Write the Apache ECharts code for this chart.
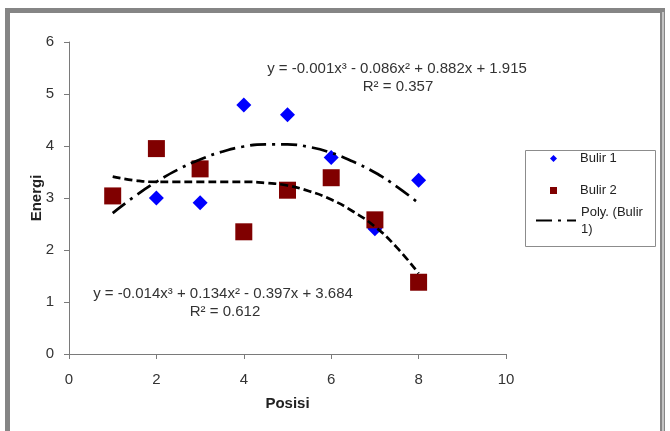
<!DOCTYPE html>
<html>
<head>
<meta charset="utf-8">
<script src="https://cdn.jsdelivr.net/npm/echarts@6/dist/echarts.min.js"></script>
<style>
html,body{margin:0;padding:0;background:#fff;}
#chart{width:670px;height:431px;}
</style>
</head>
<body>
<div id="chart"></div>
<script>
// ---- data ----
var posisi = [1, 2, 3, 4, 5, 6, 7, 8];
var bulir1 = [3.03, 3.00, 2.91, 4.79, 4.60, 3.78, 2.41, 3.34];
var bulir2 = [3.04, 3.95, 3.56, 2.35, 3.15, 3.39, 2.58, 1.38];
var trendX = [1, 1.5, 2, 2.5, 3, 3.5, 4, 4.5, 5, 5.5, 6, 6.5, 7, 7.5, 8];
var trend1 = [2.71, 3.03, 3.31, 3.55, 3.74, 3.89, 3.99, 4.03, 4.03, 3.98, 3.87, 3.70, 3.49, 3.22, 2.90];
var trend2 = [3.41, 3.34, 3.31, 3.31, 3.31, 3.31, 3.31, 3.29, 3.24, 3.13, 2.97, 2.74, 2.45, 2.05, 1.55];
var xTicks = [0, 2, 4, 6, 8, 10];
var yTicks = [0, 1, 2, 3, 4, 5, 6];
var seriesNames = ['Bulir 1', 'Bulir 2', 'Poly. (Bulir 1)', 'Poly. (Bulir 2)'];
var eq1 = ['y = -0.001x³ - 0.086x² + 0.882x + 1.915', 'R² = 0.357'];
var eq2 = ['y = -0.014x³ + 0.134x² - 0.397x + 3.684', 'R² = 0.612'];
var xName = 'Posisi';
var yName = 'Energi';

function pairs(xs, ys) { return xs.map(function (x, i) { return [x, ys[i]]; }); }

var FONT = 'Liberation Sans, Arial, sans-serif';
var chart = echarts.init(document.getElementById('chart'), null, {renderer: 'canvas'});

var legendText = {fontFamily: FONT, fontSize: 13, color: '#222', lineHeight: 17};

chart.setOption({
  backgroundColor: '#ffffff',
  animation: false,
  grid: {left: 69, right: 164, top: 42, bottom: 77, containLabel: false},
  xAxis: {
    type: 'value', min: xTicks[0], max: xTicks[xTicks.length - 1], interval: 2,
    name: xName, nameLocation: 'middle', nameGap: 42,
    nameTextStyle: {fontFamily: FONT, fontSize: 15, fontWeight: 'bold', color: '#222'},
    axisLine: {show: true, onZero: false, lineStyle: {color: '#7a7a7a', width: 1}},
    axisTick: {show: true, inside: false, length: 5, lineStyle: {color: '#7a7a7a'}},
    axisLabel: {margin: 18, fontFamily: FONT, fontSize: 15, color: '#333'},
    splitLine: {show: false}
  },
  yAxis: {
    type: 'value', min: yTicks[0], max: yTicks[yTicks.length - 1], interval: 1,
    name: yName, nameLocation: 'middle', nameGap: 25, nameMoveOverlap: false,
    nameTextStyle: {fontFamily: FONT, fontSize: 15, fontWeight: 'bold', color: '#222'},
    axisLine: {show: true, onZero: false, lineStyle: {color: '#7a7a7a', width: 1}},
    axisTick: {show: true, inside: false, length: 5, lineStyle: {color: '#7a7a7a'}},
    axisLabel: {margin: 15, fontFamily: FONT, fontSize: 15, color: '#333'},
    splitLine: {show: false}
  },
  legend: [
    {data: [seriesNames[0]], orient: 'vertical', left: 550, top: 150, padding: 0,
     itemWidth: 7, itemHeight: 7, icon: 'diamond', itemStyle: {opacity: 1},
     textStyle: Object.assign({padding: [0, 0, 0, 18]}, legendText), selectedMode: false},
    {data: [seriesNames[1]], orient: 'vertical', left: 550, top: 182, padding: 0,
     itemWidth: 7, itemHeight: 7, icon: 'rect', itemStyle: {opacity: 1},
     textStyle: Object.assign({padding: [0, 0, 0, 18]}, legendText), selectedMode: false},
    {data: [seriesNames[2]], orient: 'vertical', left: 535, top: 195, padding: 0,
     itemWidth: 40, itemHeight: 6,
     itemStyle: {opacity: 0},
     formatter: function (n) { return 'Poly. (Bulir\n1)'; },
     textStyle: Object.assign({padding: [17, 0, 0, 0]}, legendText), selectedMode: false}
  ],
  graphic: [
    {type: 'rect', silent: true, z: 100,
     shape: {x: 7.5, y: 10.5, width: 655, height: 460},
     style: {fill: 'none', stroke: '#858585', lineWidth: 5}},
    {type: 'line', silent: true, z: 101,
     shape: {x1: 663, y1: 12, x2: 663, y2: 431},
     style: {stroke: '#d8d8d8', lineWidth: 1.5}},
    {type: 'rect', silent: true, z: 50,
     shape: {x: 525.5, y: 150.5, width: 130, height: 96},
     style: {fill: 'none', stroke: '#8c8c8c', lineWidth: 1}},
    {type: 'text', silent: true, z: 60,
     style: {text: eq1[0], x: 397, y: 69, align: 'center', verticalAlign: 'middle', font: '15px ' + FONT, fill: '#333'}},
    {type: 'text', silent: true, z: 60,
     style: {text: eq1[1], x: 398, y: 87, align: 'center', verticalAlign: 'middle', font: '15px ' + FONT, fill: '#333'}},
    {type: 'text', silent: true, z: 60,
     style: {text: eq2[0], x: 223, y: 294, align: 'center', verticalAlign: 'middle', font: '15px ' + FONT, fill: '#333'}},
    {type: 'text', silent: true, z: 60,
     style: {text: eq2[1], x: 225, y: 312, align: 'center', verticalAlign: 'middle', font: '15px ' + FONT, fill: '#333'}}
  ],
  series: [
    {name: seriesNames[0], type: 'scatter', data: pairs(posisi, bulir1),
     symbol: 'diamond', symbolSize: 15, itemStyle: {color: '#0000ff', opacity: 1}, z: 2},
    {name: seriesNames[1], type: 'scatter', data: pairs(posisi, bulir2),
     symbol: 'rect', symbolSize: 17, itemStyle: {color: '#800000', opacity: 1}, z: 3},
    {name: seriesNames[2], type: 'line', data: pairs(trendX, trend1), smooth: true,
     symbol: 'none', showSymbol: false, z: 4,
     lineStyle: {color: '#000', width: 2.7, type: [16, 6, 3, 6]}, itemStyle: {color: '#000'}},
    {name: seriesNames[3], type: 'line', data: pairs(trendX, trend2), smooth: true,
     symbol: 'none', showSymbol: false, z: 4,
     lineStyle: {color: '#000', width: 2.7, type: [8, 4]}, itemStyle: {color: '#000'}}
  ]
});
</script>
</body>
</html>
